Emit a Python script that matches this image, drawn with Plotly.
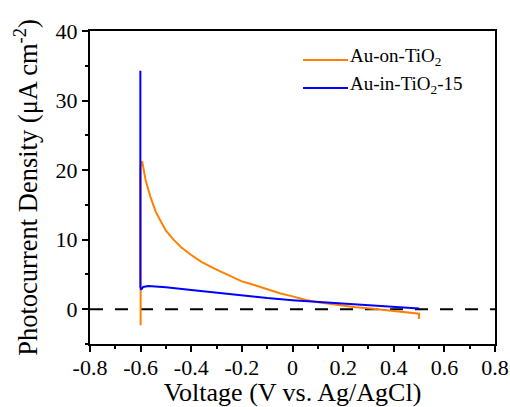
import plotly.graph_objects as go

# Au-on-TiO2 (orange)
orange_v = [-0.6, -0.6, -0.594, -0.58, -0.56, -0.54, -0.52, -0.5, -0.47, -0.44, -0.4, -0.36,
            -0.3, -0.25, -0.2, -0.17, -0.1, -0.05, 0.0, 0.05, 0.1, 0.15, 0.2, 0.25, 0.3,
            0.35, 0.4, 0.45, 0.5, 0.5]
orange_j = [-2.3, 20.5, 21.3, 18.5, 16.0, 14.0, 12.6, 11.3, 10.0, 8.9, 7.8, 6.8,
            5.7, 4.8, 4.0, 3.7, 2.9, 2.3, 1.85, 1.35, 1.0, 0.75, 0.5, 0.3, 0.15,
            -0.05, -0.2, -0.4, -0.65, -1.4]

# Au-in-TiO2-15 (blue)
blue_v = [-0.601, -0.601, -0.598, -0.59, -0.57, -0.55, -0.5, -0.4, -0.3, -0.2, -0.1,
          0.0, 0.1, 0.2, 0.3, 0.4, 0.5]
blue_j = [34.3, 3.2, 2.8, 3.2, 3.35, 3.3, 3.15, 2.75, 2.35, 1.95, 1.6,
          1.3, 1.05, 0.8, 0.6, 0.35, 0.1]

series_names = ["Au-on-TiO<sub>2</sub>", "Au-in-TiO<sub>2</sub>-15"]
series_colors = ["#FF8000", "#0000FF"]

x_ticks = [-0.8, -0.6, -0.4, -0.2, 0, 0.2, 0.4, 0.6, 0.8]
x_tick_text = ["-0.8", "-0.6", "-0.4", "-0.2", "0", "0.2", "0.4", "0.6", "0.8"]
y_ticks = [0, 10, 20, 30, 40]

font_family = "Liberation Serif, Times New Roman, serif"

fig = go.Figure()
for xs, ys, name, color in [(orange_v, orange_j, series_names[0], series_colors[0]),
                            (blue_v, blue_j, series_names[1], series_colors[1])]:
    fig.add_trace(go.Scatter(x=xs, y=ys, mode="lines", name=name,
                             line=dict(color=color, width=2), showlegend=False))

# zero reference line
fig.add_shape(type="line", xref="x", yref="y", x0=-0.8, x1=0.8, y0=0, y1=0,
              line=dict(color="black", width=2, dash="13px,12px"), layer="below")

# custom legend (longer line samples than Plotly's built-in legend)
legend_rows_y = [0.907, 0.818]
for name, color, yy in zip(series_names, series_colors, legend_rows_y):
    fig.add_shape(type="line", xref="paper", yref="paper", x0=0.526, x1=0.637, y0=yy, y1=yy,
                  line=dict(color=color, width=2))
    fig.add_annotation(xref="paper", yref="paper", x=0.638, y=yy + 0.01, text=name, showarrow=False,
                       xanchor="left", yanchor="middle",
                       font=dict(size=19, family=font_family, color="black"))

fig.update_layout(
    width=510, height=407,
    margin=dict(l=90, r=15, t=31, b=63),
    paper_bgcolor="white", plot_bgcolor="white",
    font=dict(family=font_family, color="black", size=22),
    showlegend=False,
    xaxis=dict(range=[-0.8, 0.8], tickvals=x_ticks, ticktext=x_tick_text,
               ticks="outside", ticklen=6, tickwidth=2, tickcolor="black",
               showline=True, linecolor="black", linewidth=2, mirror=True,
               showgrid=False, zeroline=False, ticklabelstandoff=-3,
               ticklabeloverflow="allow",
               minor=dict(dtick=0.1, ticks="outside", ticklen=3, tickwidth=1.5, tickcolor="black"),
               title=dict(text="Voltage (V vs. Ag/AgCl)", font=dict(size=26), standoff=0),
               tickfont=dict(size=22), automargin=False),
    yaxis=dict(range=[-5, 40], tickvals=y_ticks,
               ticks="outside", ticklen=6, tickwidth=2, tickcolor="black",
               showline=True, linecolor="black", linewidth=2, mirror=True,
               showgrid=False, zeroline=False, ticklabeloverflow="allow",
               minor=dict(dtick=5, ticks="outside", ticklen=3, tickwidth=1.5, tickcolor="black"),
               title=dict(text="Photocurrent Density (μA cm<sup>-2</sup>)", font=dict(size=26.5), standoff=10),
               tickfont=dict(size=22), automargin=False),
)

# remove the default 8px page margin so the 510x407 figure fills the window exactly
fig.write_html("out.html", config={"displayModeBar": False},
               post_script="document.body.style.margin='0';")
